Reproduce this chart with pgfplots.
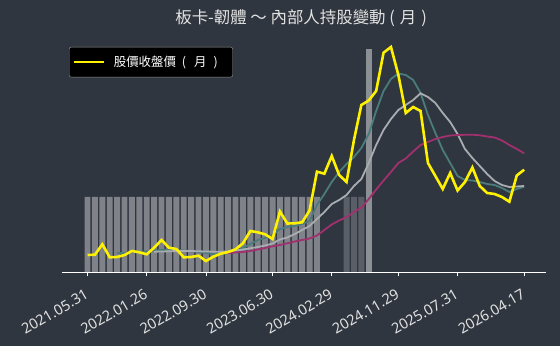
\documentclass[border=0pt]{standalone}
\usepackage{pgfplots}
\pgfplotsset{compat=1.18}
\usepackage{fontspec}
\setmainfont{Noto Sans CJK TC}
\newfontfamily\tickfont{Noto Sans}
\definecolor{bgc}{HTML}{30363F}
\definecolor{barl}{HTML}{7F8288}
\definecolor{bard}{HTML}{5A5F67}
\definecolor{bart}{HTML}{8C8F94}
\definecolor{tealc}{HTML}{4A7C7C}
\definecolor{grayc}{HTML}{A9ACB0}
\definecolor{magc}{HTML}{A0306E}
\definecolor{labc}{HTML}{E2E2E2}
\begin{document}
\begin{tikzpicture}
\fill[bgc, use as bounding box] (-62bp,-74bp) rectangle (498bp,272bp);
\begin{axis}[
  at={(0,0)}, anchor=south west,
  scale only axis, width=484bp, height=232bp,
  xmin=-3.45, xmax=61.95, ymin=0, ymax=232,
  axis x line*=bottom, axis y line=none,
  axis line style={draw=white, line width=1bp},
  xtick={0,8,16,25,33,42,50,59},
  xticklabels={2021.05.31,2022.01.26,2022.09.30,2023.06.30,2024.02.29,2024.11.29,2025.07.31,2026.04.17},
  tick style={draw=white, line width=0.8bp},
  tick align=outside, major tick length=4bp,
  xticklabel style={xshift=-3bp, yshift=-11bp, rotate=30, anchor=north east, font=\tickfont\fontsize{14.5}{16}\selectfont, text=labc, inner sep=1bp},
  title={板卡-韌體 ～ 內部人持股變動 (\hspace{5bp}月\hspace{5bp})},
  title style={at={(axis description cs:0.494,1.067)}, anchor=center, font=\fontsize{16.5}{19}\selectfont, text=labc},
  legend style={at={(axis description cs:0.0145,0.970)}, anchor=north west, fill=black, draw=gray!80, rounded corners=2bp, text=white, font=\fontsize{12.5}{14}\selectfont, inner xsep=3bp, inner ysep=7bp},
  legend image code/.code={\draw[#1] (0bp,0bp) -- (30bp,0bp);},
]
% insider bars
\addplot[ybar, bar shift=0pt, bar width=5.9bp, fill=barl, draw=none, forget plot] coordinates {
(0,75)(1,75)(2,75)(3,75)(4,75)(5,75)(6,75)(7,75)(8,75)(9,75)(10,75)(11,75)(12,75)(13,75)(14,75)(15,75)
(16,75)(17,75)(18,75)(19,75)(20,75)(21,75)(22,75)(23,75)(24,75)(25,75)(26,75)(27,75)(28,75)(29,75)(30,75)(31,75)};
\addplot[ybar, bar shift=0pt, bar width=5.9bp, fill=bard, draw=none, forget plot] coordinates {
(35,75)(36,75)(37,75)};
\addplot[ybar, bar shift=0pt, bar width=5.9bp, fill=bart, draw=none, forget plot] coordinates {
(38,223)};
% moving averages
\addplot[tealc, line width=1.8bp, forget plot] coordinates {
(4,19)(5,19)(6,19.5)(7,20)(8,20.5)(9,21.5)(10,22)(11,22.5)(12,22)(13,21.5)(14,21)(15,20)(16,19)(17,18)(18,18)(19,19)
(20,21)(21,24)(22,28)(23,32)(24,34)(25,37)(26,43)(27,45)(28,46)(29,48)(30,51)(31,67)(32,78)(33,90)(34,100)(35,108)
(36,115)(37,124)(38,138)(39,161)(40,181)(41,193)(42,198.5)(43,197)(44,192)(45,179)(46,157)(47,139)(48,122)(49,109)
(50,96)(51,92)(52,91.5)(53,90)(54,88)(55,87)(56,84)(57,80)(58,83)(59,85.3)};
\addplot[grayc, line width=1.8bp, forget plot] coordinates {
(9,20.3)(10,20.5)(11,20.7)(12,21)(13,21)(14,21)(15,20.7)(16,20.5)(17,20.3)(18,20.3)(19,20.5)(20,21.5)(21,22.5)
(22,23.7)(23,25)(24,26.5)(25,28.5)(26,32.5)(27,34.5)(28,38)(29,42)(30,46)(31,53)(32,60)(33,68)(34,72)(35,77)
(36,86)(37,93)(38,109)(39,127)(40,142)(41,153)(42,162)(43,167)(44,172)(45,178.7)(46,175)(47,169)(48,159)(49,150)
(50,138)(51,123)(52,114)(53,106)(54,98)(55,91)(56,87)(57,85)(58,85.5)(59,86)};
\addplot[magc, line width=1.8bp, forget plot] coordinates {
(19,19)(20,19.5)(21,20)(22,21)(23,22.5)(24,24)(25,25.7)(26,27)(27,28.7)(28,30.5)(29,32)(30,33.5)(31,36.5)(32,42)
(33,47.5)(34,51.5)(35,55)(36,60)(37,64.5)(38,73)(39,82.5)(40,91.5)(41,100)(42,109)(43,113.5)(44,120.5)(45,127)
(46,130)(47,133)(48,135)(49,136.5)(50,137)(51,137.2)(52,137.3)(53,136.7)(54,135.5)(55,134.5)(56,131.5)(57,127)
(58,123)(59,118.7)};
% monthly close price
\addplot[yellow, line width=2.6bp] coordinates {
(0,17)(1,17.3)(2,27.7)(3,14.7)(4,15)(5,17)(6,21)(7,19.7)(8,17.7)(9,24.3)(10,32)(11,24.3)(12,23)(13,14.7)(14,15)
(15,16.3)(16,11)(17,15.3)(18,18.3)(19,20)(20,22.7)(21,28.7)(22,41)(23,39.7)(24,37.7)(25,33)(26,60.5)(27,48.5)
(28,48.7)(29,49.7)(30,61.5)(31,100.3)(32,98.3)(33,116)(34,97)(35,90)(36,132)(37,167)(38,171.5)(39,181)(40,219.3)
(41,225)(42,197)(43,159)(44,165)(45,161)(46,109)(47,96)(48,83)(49,99)(50,81.5)(51,90)(52,104.5)(53,86)(54,79)
(55,78)(56,75)(57,70.3)(58,96.5)(59,102.3)};
\addlegendentry{\hspace{7bp}股價收盤價\hspace{3bp} (\hspace{8bp}月\hspace{7bp})\hspace{10bp}\mbox{}}
\end{axis}
\end{tikzpicture}
\end{document}
